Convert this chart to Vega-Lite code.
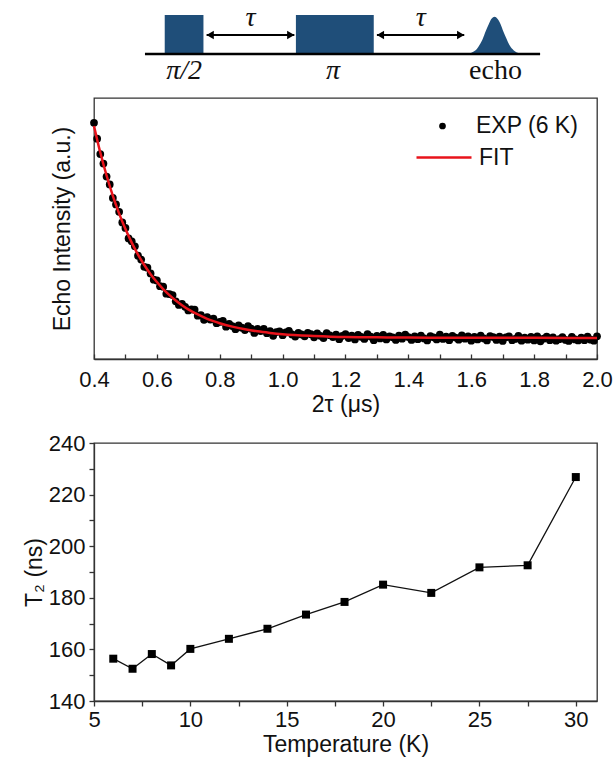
{
  "$schema": "https://vega.github.io/schema/vega-lite/v6.json",
  "padding": {"left": 22, "top": 3, "right": 5, "bottom": 5},
  "background": "white",
  "bounds": "flush",
  "spacing": 84,
  "config": {
    "view": {"stroke": "#333333", "strokeWidth": 1.3},
    "axis": {"labelFont": "Liberation Sans", "titleFont": "Liberation Sans", "labelFontSize": 22, "titleFontSize": 23, "titleFontWeight": "normal", "labelColor": "#111111", "titleColor": "#111111", "domainColor": "#333333", "tickColor": "#333333", "grid": false, "domainWidth": 1.3, "tickWidth": 1.3},
    "legend": {"labelFont": "Liberation Sans", "labelFontSize": 23, "labelColor": "#111111", "padding": 0}
  },
  "vconcat": [
    {
      "width": 503,
      "height": 8,
      "view": {"stroke": null},
      "encoding": {
        "x": {"field": "t", "type": "quantitative", "scale": {"domain": [-12.9, 114.4], "nice": false, "zero": false}, "axis": null},
        "y": {"field": "v", "type": "quantitative", "scale": {"domain": [64, 72], "nice": false, "zero": false}, "axis": null}
      },
      "layer": [
        {
          "data": {"values": [{"t": 5.0, "te": 14.8, "v": 24, "ve": 63}, {"t": 38.2, "te": 57.9, "v": 24, "ve": 63}]},
          "mark": {"type": "rect", "color": "#1f4e79"},
          "encoding": {"x2": {"field": "te"}, "y2": {"field": "ve"}}
        },
        {
          "data": {"values": [
            {"t": 81.7, "v": 24.4, "vb": 24}, {"t": 82.5, "v": 25.0, "vb": 24}, {"t": 83.2, "v": 26.5, "vb": 24},
            {"t": 84.0, "v": 29.0, "vb": 24}, {"t": 84.7, "v": 33.3, "vb": 24}, {"t": 85.5, "v": 39.3, "vb": 24},
            {"t": 86.2, "v": 46.6, "vb": 24}, {"t": 87.0, "v": 53.8, "vb": 24}, {"t": 87.7, "v": 59.2, "vb": 24},
            {"t": 88.5, "v": 61.2, "vb": 24}, {"t": 89.2, "v": 59.2, "vb": 24}, {"t": 90.0, "v": 53.8, "vb": 24},
            {"t": 90.7, "v": 46.6, "vb": 24}, {"t": 91.5, "v": 39.3, "vb": 24}, {"t": 92.2, "v": 33.3, "vb": 24},
            {"t": 93.0, "v": 29.0, "vb": 24}, {"t": 93.7, "v": 26.5, "vb": 24}, {"t": 94.5, "v": 25.0, "vb": 24},
            {"t": 95.2, "v": 24.4, "vb": 24}
          ]},
          "mark": {"type": "area", "color": "#1f4e79", "interpolate": "monotone"},
          "encoding": {"y2": {"field": "vb"}}
        },
        {
          "data": {"values": [{"t": 0, "te": 100, "v": 24}]},
          "mark": {"type": "rule", "color": "#000000", "strokeWidth": 2.5},
          "encoding": {"x2": {"field": "te"}}
        },
        {
          "data": {"values": [{"t": 15.6, "te": 37.8, "v": 43}, {"t": 58.7, "te": 80.8, "v": 43}]},
          "mark": {"type": "rule", "color": "#000000", "strokeWidth": 2},
          "encoding": {"x2": {"field": "te"}}
        },
        {
          "data": {"values": [
            {"t": 16.5, "v": 43, "dir": "triangle-left"}, {"t": 36.9, "v": 43, "dir": "triangle-right"},
            {"t": 59.6, "v": 43, "dir": "triangle-left"}, {"t": 79.9, "v": 43, "dir": "triangle-right"}
          ]},
          "mark": {"type": "point", "filled": true, "color": "#000000", "size": 70, "opacity": 1},
          "encoding": {"shape": {"field": "dir", "type": "nominal", "scale": null, "legend": null}}
        },
        {
          "data": {"values": [{"t": 26.7, "v": 60.5, "label": "τ"}, {"t": 69.8, "v": 60.5, "label": "τ"}]},
          "mark": {"type": "text", "font": "Liberation Serif", "fontStyle": "italic", "fontSize": 28, "color": "#111111"},
          "encoding": {"text": {"field": "label"}}
        },
        {
          "data": {"values": [{"t": 9.9, "v": -1, "label": "π/2"}, {"t": 47.6, "v": -1, "label": "π"}]},
          "mark": {"type": "text", "font": "Liberation Serif", "fontStyle": "italic", "fontSize": 28, "baseline": "alphabetic", "color": "#111111"},
          "encoding": {"text": {"field": "label"}}
        },
        {
          "data": {"values": [{"t": 88.7, "v": -1, "label": "echo"}]},
          "mark": {"type": "text", "font": "Liberation Serif", "fontSize": 28, "baseline": "alphabetic", "color": "#111111"},
          "encoding": {"text": {"field": "label"}}
        }
      ]
    },
    {
      "width": 503,
      "height": 261,
      "encoding": {
        "x": {"field": "t2", "type": "quantitative", "title": "2τ (μs)",
              "scale": {"domain": [0.4, 2.0], "nice": false, "zero": false},
              "axis": {"values": [0.4, 0.5, 0.6, 0.7, 0.8, 0.9, 1.0, 1.1, 1.2, 1.3, 1.4, 1.5, 1.6, 1.7, 1.8, 1.9, 2.0],
                       "labelExpr": "round(datum.value*10) % 2 == 0 ? format(datum.value, '.1f') : ''",
                       "tickSize": -5, "labelPadding": 15, "titlePadding": 3, "labelFlush": false}},
        "y": {"field": "intensity", "type": "quantitative", "title": "Echo Intensity (a.u.)",
              "scale": {"domain": [0, 1], "nice": false, "zero": false},
              "axis": {"labels": false, "ticks": false, "domain": false, "titlePadding": 20}}
      },
      "layer": [
        {
          "data": {"values": [
            {"t2": 0.40, "intensity": 0.905}, {"t2": 0.41, "intensity": 0.844}, {"t2": 0.42, "intensity": 0.785}, {"t2": 0.43, "intensity": 0.749},
            {"t2": 0.44, "intensity": 0.699}, {"t2": 0.45, "intensity": 0.669}, {"t2": 0.46, "intensity": 0.617}, {"t2": 0.47, "intensity": 0.592},
            {"t2": 0.48, "intensity": 0.564}, {"t2": 0.49, "intensity": 0.523}, {"t2": 0.50, "intensity": 0.502}, {"t2": 0.51, "intensity": 0.462},
            {"t2": 0.52, "intensity": 0.451}, {"t2": 0.53, "intensity": 0.432}, {"t2": 0.54, "intensity": 0.396}, {"t2": 0.55, "intensity": 0.381},
            {"t2": 0.56, "intensity": 0.353}, {"t2": 0.57, "intensity": 0.350}, {"t2": 0.58, "intensity": 0.328}, {"t2": 0.59, "intensity": 0.304},
            {"t2": 0.60, "intensity": 0.301}, {"t2": 0.61, "intensity": 0.279}, {"t2": 0.62, "intensity": 0.277}, {"t2": 0.63, "intensity": 0.250},
            {"t2": 0.64, "intensity": 0.249}, {"t2": 0.65, "intensity": 0.245}, {"t2": 0.66, "intensity": 0.221}, {"t2": 0.67, "intensity": 0.207},
            {"t2": 0.68, "intensity": 0.211}, {"t2": 0.69, "intensity": 0.200}, {"t2": 0.70, "intensity": 0.186}, {"t2": 0.71, "intensity": 0.190},
            {"t2": 0.72, "intensity": 0.189}, {"t2": 0.73, "intensity": 0.166}, {"t2": 0.74, "intensity": 0.168}, {"t2": 0.75, "intensity": 0.150},
            {"t2": 0.76, "intensity": 0.160}, {"t2": 0.77, "intensity": 0.151}, {"t2": 0.78, "intensity": 0.155}, {"t2": 0.79, "intensity": 0.137},
            {"t2": 0.80, "intensity": 0.142}, {"t2": 0.81, "intensity": 0.146}, {"t2": 0.82, "intensity": 0.124}, {"t2": 0.83, "intensity": 0.135},
            {"t2": 0.84, "intensity": 0.126}, {"t2": 0.85, "intensity": 0.114}, {"t2": 0.86, "intensity": 0.129}, {"t2": 0.87, "intensity": 0.120},
            {"t2": 0.88, "intensity": 0.111}, {"t2": 0.89, "intensity": 0.126}, {"t2": 0.90, "intensity": 0.116}, {"t2": 0.91, "intensity": 0.100},
            {"t2": 0.92, "intensity": 0.115}, {"t2": 0.93, "intensity": 0.107}, {"t2": 0.94, "intensity": 0.115}, {"t2": 0.95, "intensity": 0.099},
            {"t2": 0.96, "intensity": 0.107}, {"t2": 0.97, "intensity": 0.089}, {"t2": 0.98, "intensity": 0.103}, {"t2": 0.99, "intensity": 0.106},
            {"t2": 1.00, "intensity": 0.091}, {"t2": 1.01, "intensity": 0.102}, {"t2": 1.02, "intensity": 0.108}, {"t2": 1.03, "intensity": 0.094},
            {"t2": 1.04, "intensity": 0.086}, {"t2": 1.05, "intensity": 0.100}, {"t2": 1.06, "intensity": 0.094}, {"t2": 1.07, "intensity": 0.087},
            {"t2": 1.08, "intensity": 0.100}, {"t2": 1.09, "intensity": 0.095}, {"t2": 1.10, "intensity": 0.083}, {"t2": 1.11, "intensity": 0.098},
            {"t2": 1.12, "intensity": 0.089}, {"t2": 1.13, "intensity": 0.080}, {"t2": 1.14, "intensity": 0.099}, {"t2": 1.15, "intensity": 0.091},
            {"t2": 1.16, "intensity": 0.084}, {"t2": 1.17, "intensity": 0.093}, {"t2": 1.18, "intensity": 0.076}, {"t2": 1.19, "intensity": 0.089},
            {"t2": 1.20, "intensity": 0.095}, {"t2": 1.21, "intensity": 0.080}, {"t2": 1.22, "intensity": 0.090}, {"t2": 1.23, "intensity": 0.075},
            {"t2": 1.24, "intensity": 0.092}, {"t2": 1.25, "intensity": 0.085}, {"t2": 1.26, "intensity": 0.077}, {"t2": 1.27, "intensity": 0.095},
            {"t2": 1.28, "intensity": 0.086}, {"t2": 1.29, "intensity": 0.072}, {"t2": 1.30, "intensity": 0.089}, {"t2": 1.31, "intensity": 0.079},
            {"t2": 1.32, "intensity": 0.092}, {"t2": 1.33, "intensity": 0.075}, {"t2": 1.34, "intensity": 0.087}, {"t2": 1.35, "intensity": 0.083},
            {"t2": 1.36, "intensity": 0.073}, {"t2": 1.37, "intensity": 0.090}, {"t2": 1.38, "intensity": 0.078}, {"t2": 1.39, "intensity": 0.093},
            {"t2": 1.40, "intensity": 0.084}, {"t2": 1.41, "intensity": 0.073}, {"t2": 1.42, "intensity": 0.087}, {"t2": 1.43, "intensity": 0.076},
            {"t2": 1.44, "intensity": 0.090}, {"t2": 1.45, "intensity": 0.079}, {"t2": 1.46, "intensity": 0.071}, {"t2": 1.47, "intensity": 0.088},
            {"t2": 1.48, "intensity": 0.083}, {"t2": 1.49, "intensity": 0.075}, {"t2": 1.50, "intensity": 0.093}, {"t2": 1.51, "intensity": 0.077},
            {"t2": 1.52, "intensity": 0.086}, {"t2": 1.53, "intensity": 0.072}, {"t2": 1.54, "intensity": 0.089}, {"t2": 1.55, "intensity": 0.082},
            {"t2": 1.56, "intensity": 0.074}, {"t2": 1.57, "intensity": 0.091}, {"t2": 1.58, "intensity": 0.078}, {"t2": 1.59, "intensity": 0.087},
            {"t2": 1.60, "intensity": 0.070}, {"t2": 1.61, "intensity": 0.085}, {"t2": 1.62, "intensity": 0.075}, {"t2": 1.63, "intensity": 0.090},
            {"t2": 1.64, "intensity": 0.079}, {"t2": 1.65, "intensity": 0.071}, {"t2": 1.66, "intensity": 0.088}, {"t2": 1.67, "intensity": 0.084},
            {"t2": 1.68, "intensity": 0.073}, {"t2": 1.69, "intensity": 0.086}, {"t2": 1.70, "intensity": 0.069}, {"t2": 1.71, "intensity": 0.083},
            {"t2": 1.72, "intensity": 0.087}, {"t2": 1.73, "intensity": 0.072}, {"t2": 1.74, "intensity": 0.077}, {"t2": 1.75, "intensity": 0.089},
            {"t2": 1.76, "intensity": 0.070}, {"t2": 1.77, "intensity": 0.082}, {"t2": 1.78, "intensity": 0.074}, {"t2": 1.79, "intensity": 0.085},
            {"t2": 1.80, "intensity": 0.071}, {"t2": 1.81, "intensity": 0.087}, {"t2": 1.82, "intensity": 0.068}, {"t2": 1.83, "intensity": 0.078},
            {"t2": 1.84, "intensity": 0.086}, {"t2": 1.85, "intensity": 0.072}, {"t2": 1.86, "intensity": 0.083}, {"t2": 1.87, "intensity": 0.070},
            {"t2": 1.88, "intensity": 0.076}, {"t2": 1.89, "intensity": 0.084}, {"t2": 1.90, "intensity": 0.073}, {"t2": 1.91, "intensity": 0.069},
            {"t2": 1.92, "intensity": 0.085}, {"t2": 1.93, "intensity": 0.075}, {"t2": 1.94, "intensity": 0.071}, {"t2": 1.95, "intensity": 0.082},
            {"t2": 1.96, "intensity": 0.072}, {"t2": 1.97, "intensity": 0.086}, {"t2": 1.98, "intensity": 0.074}, {"t2": 1.99, "intensity": 0.070},
            {"t2": 2.00, "intensity": 0.087}
          ]},
          "transform": [{"calculate": "'EXP (6 K)'", "as": "series"}],
          "mark": {"type": "point", "shape": "circle", "filled": true, "size": 60, "opacity": 1},
          "encoding": {
            "fill": {"field": "series", "type": "nominal",
                     "scale": {"domain": ["EXP (6 K)"], "range": ["#000000"]},
                     "legend": {"title": null, "orient": "none", "legendX": 337, "legendY": 108.5, "symbolType": "circle",
                                "symbolSize": 45, "symbolStrokeWidth": 0, "symbolOpacity": 1, "labelOffset": 22}}
          }
        },
        {
          "data": {"values": [
            {"t2": 0.40, "intensity": 0.893}, {"t2": 0.42, "intensity": 0.791}, {"t2": 0.44, "intensity": 0.703}, {"t2": 0.46, "intensity": 0.625},
            {"t2": 0.48, "intensity": 0.557}, {"t2": 0.50, "intensity": 0.498}, {"t2": 0.52, "intensity": 0.446}, {"t2": 0.54, "intensity": 0.400},
            {"t2": 0.56, "intensity": 0.360}, {"t2": 0.58, "intensity": 0.325}, {"t2": 0.60, "intensity": 0.295}, {"t2": 0.62, "intensity": 0.268},
            {"t2": 0.64, "intensity": 0.245}, {"t2": 0.66, "intensity": 0.224}, {"t2": 0.68, "intensity": 0.206}, {"t2": 0.70, "intensity": 0.190},
            {"t2": 0.72, "intensity": 0.177}, {"t2": 0.74, "intensity": 0.165}, {"t2": 0.76, "intensity": 0.154}, {"t2": 0.78, "intensity": 0.145},
            {"t2": 0.80, "intensity": 0.137}, {"t2": 0.84, "intensity": 0.124}, {"t2": 0.88, "intensity": 0.114}, {"t2": 0.92, "intensity": 0.106},
            {"t2": 0.96, "intensity": 0.100}, {"t2": 1.00, "intensity": 0.095}, {"t2": 1.10, "intensity": 0.088}, {"t2": 1.20, "intensity": 0.084},
            {"t2": 1.30, "intensity": 0.083}, {"t2": 1.40, "intensity": 0.082}, {"t2": 1.60, "intensity": 0.081}, {"t2": 1.80, "intensity": 0.081},
            {"t2": 2.00, "intensity": 0.0805}
          ]},
          "transform": [{"calculate": "'FIT'", "as": "series"}],
          "mark": {"type": "line", "strokeWidth": 2.5, "interpolate": "monotone"},
          "encoding": {
            "stroke": {"field": "series", "type": "nominal",
                       "scale": {"domain": ["FIT"], "range": ["#e8131b"]},
                       "legend": {"title": null, "orient": "none", "legendX": 321, "legendY": 122.5, "symbolType": "stroke",
                                  "symbolSize": 3025, "symbolStrokeWidth": 2.5, "labelOffset": 6}}
          }
        }
      ]
    },
    {
      "width": 503,
      "height": 258,
      "data": {"values": [
        {"temp": 6, "T2": 156.4}, {"temp": 7, "T2": 152.5}, {"temp": 8, "T2": 158.2}, {"temp": 9, "T2": 153.8},
        {"temp": 10, "T2": 160.2}, {"temp": 12, "T2": 164.1}, {"temp": 14, "T2": 168.0}, {"temp": 16, "T2": 173.5},
        {"temp": 18, "T2": 178.4}, {"temp": 20, "T2": 185.1}, {"temp": 22.5, "T2": 181.9}, {"temp": 25, "T2": 191.8},
        {"temp": 27.5, "T2": 192.6}, {"temp": 30, "T2": 226.8}
      ]},
      "encoding": {
        "x": {"field": "temp", "type": "quantitative", "title": "Temperature (K)",
              "scale": {"domain": [5, 31.1], "nice": false, "zero": false},
              "axis": {"values": [5, 7.5, 10, 12.5, 15, 17.5, 20, 22.5, 25, 27.5, 30],
                       "labelExpr": "datum.value % 5 == 0 ? datum.label : ''",
                       "tickSize": 5, "labelPadding": 3, "titlePadding": 3, "labelFlush": false}},
        "y": {"field": "T2", "type": "quantitative", "title": "T₂ (ns)",
              "scale": {"domain": [140, 240], "nice": false, "zero": false},
              "axis": {"values": [140, 150, 160, 170, 180, 190, 200, 210, 220, 230, 240],
                       "labelExpr": "datum.value % 20 == 0 ? datum.label : ''",
                       "tickSize": 5, "labelPadding": 4, "titlePadding": 2, "labelFlush": false}}
      },
      "layer": [
        {"mark": {"type": "line", "color": "#111111", "strokeWidth": 1.3}},
        {"mark": {"type": "point", "shape": "square", "filled": true, "size": 64, "color": "#000000", "opacity": 1}}
      ]
    }
  ]
}
